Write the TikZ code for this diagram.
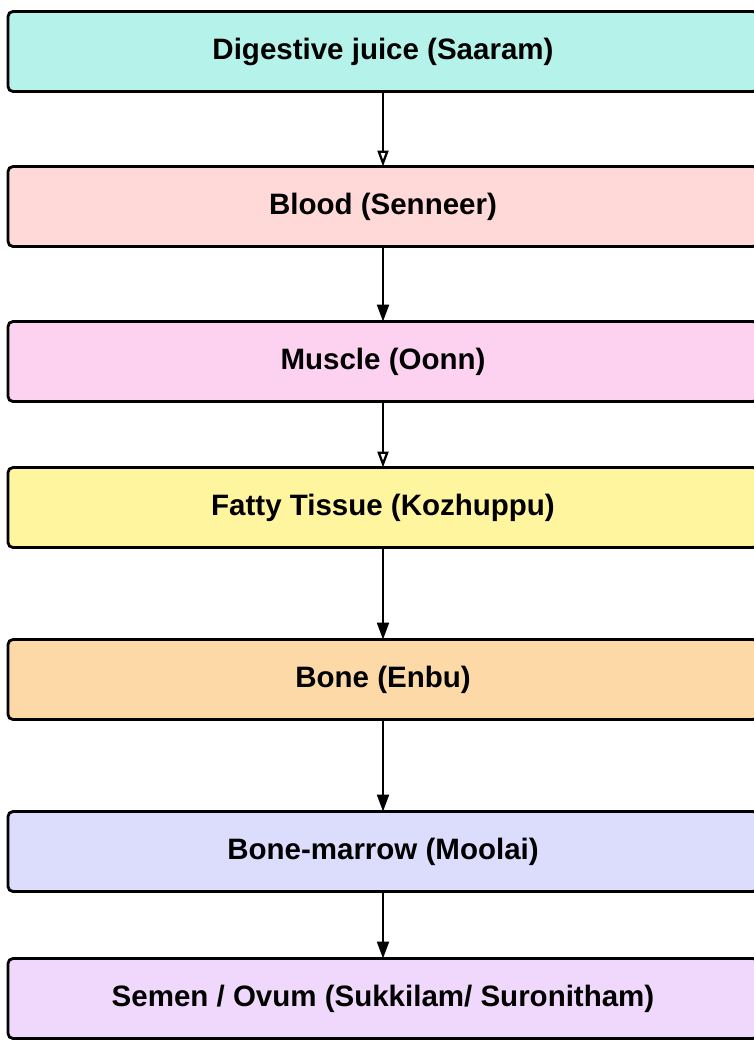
\documentclass[tikz,border=0pt]{standalone}
\usepackage{fontspec}
\setmainfont{Liberation Sans}
\usepackage{xcolor}
\usetikzlibrary{arrows.meta, positioning}

\definecolor{juicecol}{HTML}{B4F2EA}
\definecolor{bloodcol}{HTML}{FFD8D8}
\definecolor{musclecol}{HTML}{FCD2F0}
\definecolor{fatcol}{HTML}{FFF59E}
\definecolor{bonecol}{HTML}{FDD9A8}
\definecolor{marrowcol}{HTML}{DCDCFC}
\definecolor{semencol}{HTML}{F0D8FC}

\begin{document}
\begin{tikzpicture}[
        x=1pt, y=1pt,
        box/.style={rectangle, draw, rounded corners=5pt, line width=2.8pt, outer sep=0pt, minimum width=750pt, minimum height=80pt, align=center, font=\fontsize{29.5}{33}\selectfont\bfseries},
        arrow/.style={-{Triangle[length=17pt, width=12pt]}, line width=2.3pt},
        openarrow/.style={-{Triangle[open, length=16pt, width=11pt]}, line width=2.3pt}
    ]
    \useasboundingbox (0,0) rectangle (753,-1044);

    \node (juice) [box, fill=juicecol] at (383,-51.5) {Digestive juice (Saaram)};
    \node (blood) [box, fill=bloodcol, below=75pt of juice] {Blood (Senneer)};
    \node (muscle) [box, fill=musclecol, below=75pt of blood] {Muscle (Oonn)};
    \node (fat) [box, fill=fatcol, below=66pt of muscle] {Fatty Tissue (Kozhuppu)};
    \node (bone) [box, fill=bonecol, below=92pt of fat] {Bone (Enbu)};
    \node (marrow) [box, fill=marrowcol, below=92pt of bone] {Bone-marrow (Moolai)};
    \node (semen) [box, fill=semencol, below=67pt of marrow] {Semen / Ovum (Sukkilam/ Suronitham)};

    \draw[openarrow] (juice) -- (blood);
    \draw[arrow] (blood) -- (muscle);
    \draw[openarrow] (muscle) -- (fat);
    \draw[arrow] (fat) -- (bone);
    \draw[arrow] (bone) -- (marrow);
    \draw[arrow] (marrow) -- (semen);

\end{tikzpicture}
\end{document}
